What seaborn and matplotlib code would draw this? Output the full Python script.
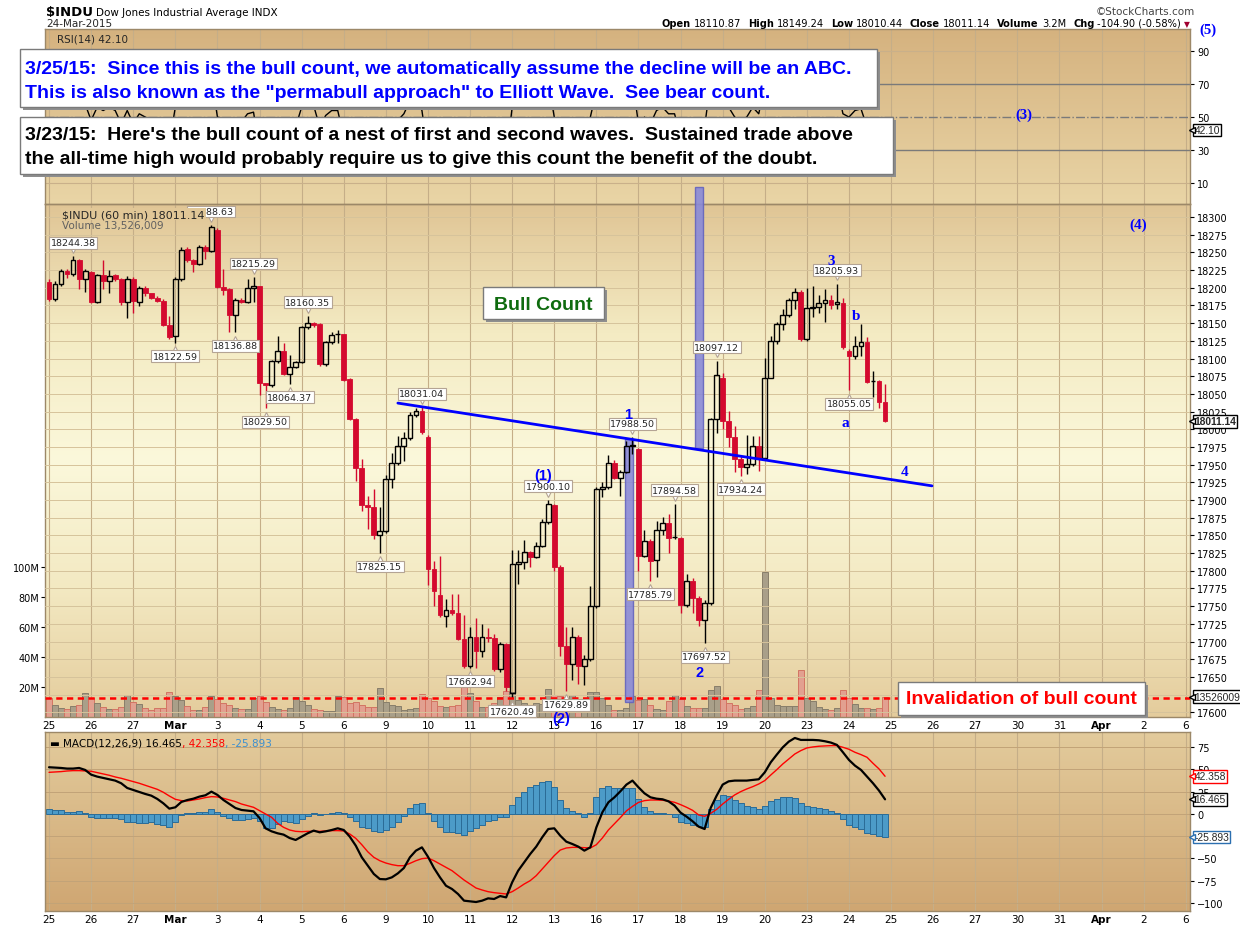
"""
$INDU hourly chart with RSI, volume and MACD panels (StockCharts style)
Elliott Wave bull count annotations
"""
import numpy as np
import matplotlib
matplotlib.use('Agg')
import matplotlib.pyplot as plt
import matplotlib.transforms as mtransforms
from matplotlib.colors import LinearSegmentedColormap
from matplotlib.patches import Rectangle
import seaborn as sns

sns.set_style('white')
plt.rcParams['font.family'] = ['DejaVu Sans']

W_PX, H_PX = 1240, 928

# ---------------------------------------------------------------- data
DAY_LABELS = ['25', '26', '27', 'Mar', '3', '4', '5', '6', '9', '10', '11', '12', '13',
              '16', '17', '18', '19', '20', '23', '24', '25', '26', '27', '30', '31',
              'Apr', '2', '6']
BARS_PER_DAY = 7

# hourly candles, one row per trading day (Feb 25 .. Mar 24)
OPEN = [
    18208, 18184, 18205, 18224, 18219, 18239, 18212,
    18222, 18180, 18218, 18209, 18218, 18212, 18180,
    18213, 18180, 18200, 18192, 18186, 18182, 18147,
    18132, 18213, 18255, 18239, 18234, 18257, 18252,
    18282, 18201, 18198, 18162, 18183, 18180, 18199,
    18202, 18065, 18062, 18096, 18111, 18078, 18088,
    18095, 18144, 18150, 18149, 18092, 18123, 18134,
    18134, 18071, 18015, 17945, 17893, 17890, 17850,
    17856, 17930, 17952, 17977, 17987, 18020, 18026,
    17989, 17802, 17766, 17736, 17744, 17740, 17703,
    17665, 17707, 17686, 17707, 17705, 17661, 17696,
    17627, 17810, 17812, 17826, 17820, 17835, 17869,
    17893, 17806, 17693, 17668, 17707, 17665, 17675,
    17750, 17916, 17919, 17953, 17931, 17940, 17977,
    17972, 17821, 17842, 17815, 17857, 17868, 17848,
    17846, 17751, 17785, 17762, 17731, 17754, 18014,
    18072, 18011, 17989, 17958, 17946, 17951, 17977,
    17960, 18073, 18125, 18149, 18162, 18183, 18194,
    18127, 18172, 18173, 18178, 18183, 18177, 18179,
    18110.87, 18103, 18118, 18124, 18068, 18068, 18038,
]
HIGH = [
    18212, 18210, 18226, 18226, 18244.38, 18240, 18227,
    18224, 18220, 18239, 18225, 18220, 18214, 18216,
    18215, 18203, 18203, 18193, 18188, 18184, 18160,
    18215, 18257, 18257, 18240, 18261, 18260, 18288.63,
    18284, 18226, 18200, 18185, 18185, 18212, 18215.29,
    18203, 18066, 18098, 18132, 18122, 18105, 18097,
    18146, 18160.35, 18152, 18150, 18125, 18137, 18140,
    18135, 18072, 18016, 17958, 17906, 17916, 17890,
    17935, 17966, 17990, 17996, 18025, 18030, 18031.04,
    17992, 17814, 17821, 17760, 17767, 17767, 17737,
    17720, 17733, 17725, 17719, 17710, 17699, 17698,
    17830, 17830, 17844, 17828, 17840, 17873, 17900.10,
    17895, 17808, 17720, 17720, 17709, 17681, 17779,
    17918, 17925, 17963, 17956, 17943, 17983, 17988.50,
    17974, 17857, 17845, 17870, 17876, 17880, 17894.58,
    17848, 17795, 17790, 17764, 17758, 18016, 18097.12,
    18080, 18026, 18005, 17962, 17992, 17991, 17991,
    18101, 18132, 18152, 18170, 18186, 18200, 18197,
    18200, 18202, 18190, 18198, 18190, 18205.93, 18185,
    18113, 18132, 18149.24, 18130, 18083, 18070, 18064,
]
LOW = [
    18181, 18182, 18203, 18214, 18216, 18198, 18194,
    18178, 18178, 18198, 18192, 18210, 18176, 18157,
    18165, 18174, 18188, 18184, 18180, 18146, 18128,
    18122.59, 18210, 18237, 18222, 18232, 18240, 18250,
    18199, 18190, 18137, 18136.88, 18178, 18178, 18180,
    18048, 18029.50, 18060, 18094, 18076, 18064.37, 18086,
    18093, 18142, 18145, 18090, 18090, 18121, 18122,
    18068, 18013, 17927, 17884, 17859, 17845, 17825.15,
    17853, 17917, 17950, 17955, 17985, 18018, 17993,
    17780, 17750, 17734, 17721, 17737, 17702, 17663,
    17662.94, 17663, 17678, 17699, 17659, 17657, 17630,
    17620.49, 17781, 17802, 17805, 17818, 17833, 17866,
    17800, 17680, 17629.89, 17645, 17640, 17638, 17672,
    17748, 17904, 17916, 17930, 17906, 17938, 17965,
    17799, 17819, 17785.79, 17791, 17850, 17825, 17845,
    17741, 17749, 17741, 17722, 17697.52, 17752, 17995,
    18000, 17975, 17940, 17934.24, 17937, 17948, 17941,
    17958, 18072, 18120, 18140, 18158, 18170, 18125,
    18125, 18158, 18165, 18151, 18170, 18170, 18114,
    18055.05, 18099, 18104, 18066, 18045, 18030, 18010.44,
]
CLOSE = [
    18184, 18205, 18224, 18219, 18239, 18212, 18224,
    18180, 18218, 18209, 18217, 18212, 18180, 18213,
    18182, 18200, 18192, 18186, 18182, 18147, 18131,
    18213, 18254, 18239, 18234, 18257, 18252, 18286,
    18201, 18197, 18162, 18183, 18180, 18199, 18202,
    18065, 18062, 18096, 18111, 18078, 18088, 18095,
    18144, 18150, 18147, 18092, 18123, 18133, 18134,
    18069, 18015, 17945, 17893, 17890, 17850, 17856,
    17930, 17952, 17977, 17987, 18020, 18026, 17996,
    17802, 17772, 17737, 17744, 17740, 17703, 17665,
    17707, 17686, 17707, 17705, 17661, 17696, 17635,
    17810, 17812, 17826, 17820, 17835, 17869, 17895,
    17806, 17693, 17668, 17707, 17665, 17675, 17750,
    17916, 17919, 17953, 17931, 17940, 17976, 17978,
    17821, 17842, 17814, 17857, 17868, 17847, 17848,
    17751, 17785, 17762, 17731, 17754, 18014, 18076,
    18011, 17989, 17958, 17946, 17951, 17977, 17958,
    18073, 18125, 18149, 18162, 18183, 18194, 18127,
    18172, 18173, 18178, 18183, 18176, 18180, 18116,
    18103, 18118, 18123, 18067, 18068, 18038, 18011.14,
]
VOLUME_M = [
    12.7, 8.2, 6.0, 5.3, 7.1, 8.0, 16.0,
    12.7, 9.3, 6.7, 5.3, 5.3, 6.7, 14.7,
    10.2, 8.7, 6.2, 4.9, 6.0, 6.0, 16.7,
    14.2, 11.6, 7.6, 4.9, 4.9, 6.4, 14.2,
    12.0, 9.3, 8.0, 6.0, 5.3, 5.3, 12.7,
    14.2, 10.2, 6.7, 5.3, 4.9, 6.2, 13.3,
    10.9, 8.0, 5.3, 4.9, 4.0, 4.0, 14.2,
    13.3, 9.3, 10.2, 8.2, 6.9, 6.9, 19.3,
    10.0, 8.0, 7.6, 4.9, 5.3, 6.0, 15.3,
    12.7, 10.7, 7.1, 6.7, 7.1, 8.2, 21.6,
    16.0, 10.9, 6.7, 6.7, 9.3, 13.3, 17.6,
    16.7, 11.6, 9.3, 6.7, 9.3, 8.9, 18.7,
    14.4, 14.2, 11.6, 14.4, 7.1, 12.0, 16.7,
    16.7, 12.7, 8.2, 4.9, 4.9, 6.0, 13.8,
    11.6, 12.0, 8.2, 5.3, 4.9, 10.4, 14.9,
    12.0, 7.1, 6.0, 6.0, 6.0, 18.2, 20.9,
    12.0, 9.3, 8.2, 5.3, 6.0, 7.1, 18.2,
    97.0, 12.7, 8.2, 7.6, 7.1, 7.6, 31.6,
    12.7, 10.4, 6.7, 5.3, 4.9, 6.0, 17.7,
    12.5, 8.9, 6.0, 6.0, 5.3, 6.0, 13.526,
]
RSI = [
    55, 58, 62, 60, 65, 55, 58,
    48, 56, 54, 56, 54, 46, 54,
    46, 52, 50, 48, 47, 38, 34,
    56, 66, 62, 60, 66, 64, 74,
    50, 49, 42, 48, 47, 52, 53,
    30, 29, 40, 45, 38, 42, 44,
    56, 58, 57, 44, 51, 54, 54,
    38, 30, 24, 20, 20, 18, 20,
    36, 42, 48, 52, 60, 62, 54,
    28, 24, 22, 24, 23, 20, 17,
    30, 28, 34, 34, 26, 34, 24,
    56, 56, 60, 58, 62, 68, 72,
    50, 36, 33, 42, 36, 38, 50,
    66, 66, 70, 64, 66, 72, 72,
    46, 50, 46, 54, 56, 52, 52,
    38, 46, 42, 38, 44, 72, 78,
    62, 56, 50, 48, 50, 56, 52,
    70, 76, 78, 80, 82, 84, 62,
    70, 70, 71, 72, 68, 69, 52,
    50, 54, 55, 44, 44, 42, 42.10,
]
MACD = [
    52.5, 52.1, 51.7, 51.0, 51.0, 51.7, 49.5,
    44.2, 42.0, 40.5, 39.0, 37.5, 34.5, 29.2,
    27.0, 24.7, 22.5, 20.6, 16.9, 12.0, 6.0,
    7.5, 13.5, 15.7, 17.2, 19.5, 21.0, 25.1,
    21.4, 15.7, 11.2, 6.7, 4.5, 3.7, 3.0,
    -4.5, -16.1, -19.5, -21.7, -23.2, -27.0, -29.2,
    -25.5, -21.7, -18.7, -20.6, -19.5, -18.0, -16.1,
    -18.0, -25.5, -35.6, -48.7, -58.1, -67.4, -73.1,
    -73.4, -71.2, -66.7, -60.7, -48.7, -41.2, -37.5,
    -48.0, -60.7, -71.2, -80.6, -84.3, -89.9, -97.4,
    -98.2, -98.9, -97.4, -94.8, -95.5, -92.2, -93.7,
    -76.8, -63.7, -54.3, -45.0, -36.7, -26.2, -16.9,
    -16.1, -24.4, -31.1, -33.7, -36.7, -41.2, -37.5,
    -15.0, 1.9, 13.1, 18.7, 25.5, 33.0, 37.5,
    30.0, 23.2, 18.7, 17.2, 16.5, 14.2, 9.4,
    1.5, -3.0, -8.2, -14.2, -16.9, 6.7, 20.6,
    33.0, 36.7, 37.5, 37.5, 37.5, 38.2, 39.0,
    46.8, 58.1, 66.7, 74.9, 81.3, 85.4, 83.2,
    83.2, 83.2, 82.8, 81.7, 80.2, 77.6, 69.3,
    60.7, 54.3, 49.5, 42.0, 34.5, 26.2, 16.465,
]
SIGNAL = [
    46.8, 47.2, 47.6, 48.3, 48.7, 48.7, 48.3,
    48.0, 46.5, 45.0, 43.5, 41.6, 40.1, 38.2,
    36.3, 34.5, 32.2, 30.0, 27.7, 24.4, 20.2,
    16.5, 15.0, 14.6, 15.7, 16.9, 18.4, 19.5,
    19.1, 17.6, 15.7, 13.9, 11.2, 9.4, 7.5,
    3.7, 0.0, -3.7, -10.5, -15.0, -18.0, -19.5,
    -19.9, -19.5, -19.5, -19.5, -19.1, -18.7, -18.7,
    -19.1, -22.5, -27.4, -34.5, -42.5, -48.7, -52.5,
    -55.1, -56.9, -58.1, -58.1, -55.5, -52.5, -50.2,
    -49.5, -52.5, -56.2, -59.9, -63.7, -68.9, -74.2,
    -78.7, -83.2, -85.4, -87.3, -88.4, -89.2, -89.9,
    -87.3, -83.2, -78.7, -74.9, -69.3, -61.8, -54.3,
    -46.8, -40.5, -38.2, -37.5, -37.5, -37.8, -38.2,
    -34.5, -27.0, -18.0, -11.0, -4.0, 3.5, 8.5,
    13.0, 15.0, 15.7, 15.7, 15.4, 14.6, 13.1,
    10.5, 7.5, 4.1, -1.1, -2.6, 0.7, 5.2,
    11.2, 16.5, 21.4, 25.1, 28.1, 30.7, 33.7,
    37.5, 43.8, 49.8, 56.2, 61.8, 67.4, 71.2,
    74.2, 75.3, 76.1, 76.4, 76.8, 76.8, 74.9,
    72.7, 69.3, 66.7, 63.7, 56.9, 50.6, 42.358,
]

# candles (1-based) whose high / low carries a value tag
TAG_HIGHS = [5, 28, 35, 44, 63, 84, 98, 105, 112, 132]
TAG_LOWS = [22, 32, 37, 41, 56, 71, 78, 87, 101, 110, 116, 134]

# wave labels: text, bar position, price
WAVES = [('(1)', 82.1, 17935, 'sans'), ('1', 96.3, 18021, 'sans'), ('2', 108.2, 17657, 'sans'),
         ('(2)', 85.1, 17592, 'sans'), ('3', 130.0, 18238, 'serif'), ('b', 134.2, 18161, 'serif'),
         ('a', 132.4, 18010, 'serif'), ('4', 142.2, 17941, 'serif'), ('(4)', 181.1, 18290, 'serif')]
WAVES_RSI = [('(3)', 162.1, 51.8), ('(5)', 192.7, 103.5)]

TREND_X = [58.0, 146.8]
TREND_Y = [18037, 17920]
INVALIDATION = 17620.49
HIGHLIGHTS = [(96.4, 17614, 17986), (108.1, 17973, 18342)]

LAST_VOLUME = 13526009
PRICE_TICKS = [p for p in range(17600, 18301, 25) if p != 17625]   # 17625 sits under the volume tag

# ---------------------------------------------------------------- helpers
RED = '#D4092E'
x = np.arange(len(CLOSE))
o, h, l, c = (np.array(v, dtype=float) for v in (OPEN, HIGH, LOW, CLOSE))
down = c < o

fig = plt.figure(figsize=(W_PX / 100, H_PX / 100), dpi=100)
fig.patch.set_facecolor('white')


def panel_rect(top, bottom, left=45, right=1190):
    return [left / W_PX, 1 - bottom / H_PX, (right - left) / W_PX, (bottom - top) / H_PX]


def add_gradient(rect, stops):
    bg = fig.add_axes(rect, zorder=0)
    cmap = LinearSegmentedColormap.from_list('bg', stops)
    bg.imshow(np.linspace(0, 1, 256).reshape(-1, 1), cmap=cmap, aspect='auto', extent=[0, 1, 0, 1])
    bg.set_axis_off()


def style_panel(ax):
    ax.patch.set_visible(False)
    for s in ax.spines.values():
        s.set_color('#9C8868')
        s.set_linewidth(1.0)
    ax.set_xlim(-0.67, 189.7)
    for d in range(len(DAY_LABELS)):
        ax.axvline(d * BARS_PER_DAY, color='#C5AE88', lw=0.8, zorder=0.5)


def right_marker(ax, y, text, ec='black', weight='normal', ytrans=None):
    trans = mtransforms.blended_transform_factory(ax.transAxes, ytrans or ax.transData)
    ax.text(1.0038, y, text, transform=trans, ha='left', va='center', fontsize=7.4, fontweight=weight,
            family='Liberation Sans',
            bbox=dict(boxstyle='square,pad=0.12', fc='white', ec=ec, lw=1.0), clip_on=False, zorder=10)
    ax.plot([1.0014], [y], marker='<', ms=4.5, mfc='white', mec=ec, mew=1.0, transform=trans,
            clip_on=False, zorder=11)


def draw_runs(x_px, y_px, runs, align='left'):
    r = fig.canvas.get_renderer()
    texts, widths = [], []
    for s, size, weight, color, gap in runs:
        t = fig.text(0, 1 - y_px / H_PX, s, fontsize=size, fontweight=weight, color=color,
                     va='baseline', zorder=7)
        texts.append(t)
        widths.append(t.get_window_extent(r).width + gap)
    pos = x_px - sum(widths) if align == 'right' else x_px
    for t, w in zip(texts, widths):
        t.set_x(pos / W_PX)
        pos += w


def note_box(x0, y0, x1, y1):
    fig.add_artist(Rectangle(((x0 + 3) / W_PX, 1 - (y1 + 3) / H_PX), (x1 - x0) / W_PX, (y1 - y0) / H_PX,
                             transform=fig.transFigure, fc='#8E8E8E', ec='none', zorder=5))
    fig.add_artist(Rectangle((x0 / W_PX, 1 - y1 / H_PX), (x1 - x0) / W_PX, (y1 - y0) / H_PX,
                             transform=fig.transFigure, fc='white', ec='#7A7A7A', lw=1.0, zorder=5))


def note_text(x_px, y_px, s, color, ha='left'):
    fig.text(x_px / W_PX, 1 - y_px / H_PX, s, fontsize=14, fontweight='bold', color=color,
             family='Liberation Sans', ha=ha, va='center', zorder=6)


# ---------------------------------------------------------------- backgrounds
rsi_rect = panel_rect(30, 205)
px_rect = panel_rect(205, 718)
macd_rect = panel_rect(733, 912)
add_gradient(rsi_rect, ['#D5B27F', '#E9D5A6'])
add_gradient(px_rect, ['#E0C595', '#F4EBC3', '#FBF8DB', '#F3E9C2', '#E4CC9C'])
add_gradient(macd_rect, ['#E3CB9C', '#CFA672'])

# ---------------------------------------------------------------- RSI panel
ax_rsi = fig.add_axes(rsi_rect, zorder=1)
style_panel(ax_rsi)
ax_rsi.set_ylim(-3.0, 103.7)
for lvl in (10, 90):
    ax_rsi.axhline(lvl, color='#C9B08A', lw=0.8, zorder=0.5)
for lvl in (30, 70):
    ax_rsi.axhline(lvl, color='#7A7A7A', lw=1.0, zorder=0.6)
ax_rsi.axhline(50, color='#7A7A7A', lw=1.0, ls='-.', zorder=0.6)
sns.lineplot(x=x, y=RSI, ax=ax_rsi, color='black', linewidth=1.0, zorder=3)
ax_rsi.yaxis.tick_right()
ax_rsi.set_yticks([10, 30, 50, 70, 90])
ax_rsi.tick_params(axis='y', labelsize=7, length=3, pad=2, colors='black')
ax_rsi.set_xticks([])
ax_rsi.set_xlabel('')
ax_rsi.set_ylabel('')
right_marker(ax_rsi, RSI[-1], f'{RSI[-1]:.2f}')
for s, xi, yv in WAVES_RSI:
    ax_rsi.text(xi, yv, s, color='#0000FF', fontsize=10.5, fontweight='bold', family='Liberation Serif',
                ha='center', va='center', clip_on=False, zorder=6)

# ---------------------------------------------------------------- price + volume panel
ax_vol = fig.add_axes(px_rect, zorder=1)
style_panel(ax_vol)
ax_px = ax_vol.twinx()
ax_px.patch.set_visible(False)
for s in ax_px.spines.values():
    s.set_visible(False)

ax_vol.set_ylim(0, 342)
vol_face = np.where(down, '#E2A090', '#A99F89')
vol_edge = np.where(down, '#D37463', '#887E6A')
ax_vol.bar(x, VOLUME_M, width=1.0, color=vol_face, edgecolor=vol_edge, linewidth=0.7, zorder=2)
ax_vol.set_yticks([20, 40, 60, 80, 100])
ax_vol.set_yticklabels([f'{v}M' for v in (20, 40, 60, 80, 100)])
ax_vol.yaxis.tick_left()
ax_vol.tick_params(axis='y', labelsize=7, length=3, pad=1, colors='black')

ax_px.set_ylim(17593.3, 18318.4)
ax_px.set_xlim(-0.67, 189.7)
for p in np.arange(17600, 18301, 25):
    ax_px.axhline(p, color='#D6C39B', lw=0.7, zorder=0.5)
ax_px.set_yticks(PRICE_TICKS)
ax_px.tick_params(axis='y', labelsize=7, length=3, pad=2, colors='black')

# highlight bars
for xc, y0, y1 in HIGHLIGHTS:
    ax_px.add_patch(Rectangle((xc - 0.65, y0), 1.3, y1 - y0, fc='#8A8AD8', ec='#6464BE', lw=1.0,
                              alpha=0.9, zorder=2.5, clip_on=False))

# candles
body_lo = np.minimum(o, c)
body_hi = np.maximum(o, c)
wick_col = np.where(down, RED, 'black')
ax_px.vlines(x, body_hi, h, colors=wick_col, linewidth=1.0, zorder=3)
ax_px.vlines(x, l, body_lo, colors=wick_col, linewidth=1.0, zorder=3)
ax_px.bar(x[down], (body_hi - body_lo)[down], bottom=body_lo[down], width=0.8,
          color=RED, edgecolor=RED, linewidth=0.6, zorder=3.2)
ax_px.bar(x[~down], (body_hi - body_lo)[~down], bottom=body_lo[~down], width=0.8,
          facecolor='none', edgecolor='black', linewidth=1.0, zorder=3.2)

# trend line and invalidation level
sns.lineplot(x=TREND_X, y=TREND_Y, ax=ax_px, color='#0000FF', linewidth=2.0, zorder=4)
ax_px.axhline(INVALIDATION, color='#FF0000', lw=1.8, ls=(0, (2.5, 1.8)), zorder=4)
ax_px.set_xlabel('')
ax_px.set_ylabel('')

# value tags at swing highs / lows
up_off = mtransforms.offset_copy(ax_px.transData, fig, x=0, y=4.5, units='points')
dn_off = mtransforms.offset_copy(ax_px.transData, fig, x=0, y=-4.5, units='points')
tag_box = dict(boxstyle='square,pad=0.15', fc='white', ec='#B4A494', lw=0.8)
for n in TAG_HIGHS:
    i = n - 1
    ax_px.plot(i, h[i], marker='v', ms=5, mfc='white', mec='#B4A494', mew=0.8, transform=up_off, zorder=6)
    ax_px.annotate(f'{h[i]:.2f}', (i, h[i]), xytext=(0, 6.5), textcoords='offset points', ha='center',
                   va='bottom', fontsize=6.8, bbox=tag_box, zorder=7)
for n in TAG_LOWS:
    i = n - 1
    ax_px.plot(i, l[i], marker='^', ms=5, mfc='white', mec='#B4A494', mew=0.8, transform=dn_off, zorder=6)
    ax_px.annotate(f'{l[i]:.2f}', (i, l[i]), xytext=(0, -6.5), textcoords='offset points', ha='center',
                   va='top', fontsize=6.8, bbox=tag_box, zorder=7)

for s, xi, yv, fam in WAVES:
    family = 'Liberation Serif' if fam == 'serif' else 'Liberation Sans'
    size = 11 if fam == 'serif' else 10.5
    ax_px.text(xi, yv, s, color='#0000FF', fontsize=size, fontweight='bold', family=family,
               ha='center', va='center', clip_on=False, zorder=8)

right_marker(ax_px, c[-1], f'{c[-1]:.2f}', weight='bold')
right_marker(ax_px, LAST_VOLUME / 1e6, f'{LAST_VOLUME}', ytrans=ax_vol.transData)

ax_vol.set_xticks(np.arange(len(DAY_LABELS)) * BARS_PER_DAY)
ax_vol.set_xticklabels(DAY_LABELS)
ax_vol.tick_params(axis='x', labelsize=7.5, length=0, pad=2, colors='black')
for t in ax_vol.get_xticklabels():
    if t.get_text() in ('Mar', 'Apr'):
        t.set_fontweight('bold')

# ---------------------------------------------------------------- MACD panel
ax_m = fig.add_axes(macd_rect, zorder=1)
style_panel(ax_m)
ax_m.set_ylim(-109, 92.1)
for lvl in range(-100, 76, 25):
    ax_m.axhline(lvl, color='#C2A378', lw=0.7, zorder=0.5)
hist = np.array(MACD) - np.array(SIGNAL)
ax_m.bar(x, hist, width=1.0, color='#4C9BC8', edgecolor='#2B6C97', linewidth=0.7, zorder=2)
sns.lineplot(x=x, y=SIGNAL, ax=ax_m, color='#FF0000', linewidth=1.0, zorder=3)
sns.lineplot(x=x, y=MACD, ax=ax_m, color='black', linewidth=1.6, zorder=4)
ax_m.set_xlim(-0.67, 189.7)
ax_m.set_xlabel('')
ax_m.set_ylabel('')
ax_m.yaxis.tick_right()
ax_m.set_yticks([75, 50, 25, 0, -25, -50, -75, -100])
ax_m.tick_params(axis='y', labelsize=7, length=3, pad=2, colors='black')
ax_m.set_xticks(np.arange(len(DAY_LABELS)) * BARS_PER_DAY)
ax_m.set_xticklabels(DAY_LABELS)
ax_m.tick_params(axis='x', labelsize=7.5, length=0, pad=2, colors='black')
for t in ax_m.get_xticklabels():
    if t.get_text() in ('Mar', 'Apr'):
        t.set_fontweight('bold')
right_marker(ax_m, SIGNAL[-1], f'{SIGNAL[-1]:.3f}', ec='#FF0000')
right_marker(ax_m, MACD[-1], f'{MACD[-1]:.3f}', ec='black')
right_marker(ax_m, hist[-1], f'{hist[-1]:.3f}', ec='#2B6FB0')

# ---------------------------------------------------------------- header and legends
draw_runs(46, 16, [('$INDU', 9.5, 'bold', 'black', 3),
                   ('Dow Jones Industrial Average INDX', 7.5, 'normal', 'black', 0)])
fig.text(46 / W_PX, 1 - 27 / H_PX, '24-Mar-2015', fontsize=7.5, va='baseline')
fig.text(1195 / W_PX, 1 - 15 / H_PX, '\u00a9StockCharts.com', fontsize=7.5, color='#444444',
         ha='right', va='baseline')
ohlc = [('Open', 'bold'), ('18110.87', 'normal'), ('High', 'bold'), ('18149.24', 'normal'),
        ('Low', 'bold'), ('18010.44', 'normal'), ('Close', 'bold'), ('18011.14', 'normal'),
        ('Volume', 'bold'), ('3.2M', 'normal'), ('Chg', 'bold'), ('-104.90 (-0.58%)', 'normal')]
runs = [(s, 7.1, w, 'black', 3 if w == 'bold' else 7) for s, w in ohlc]
runs[-1] = (runs[-1][0], 7.1, 'normal', 'black', 3)
runs.append(('\u25bc', 5.5, 'normal', '#A00030', 0))
draw_runs(1190, 27, runs, align='right')

fig.text(57 / W_PX, 1 - 42 / H_PX, 'RSI(14) 42.10', fontsize=7.5, va='baseline')
fig.text(62 / W_PX, 1 - 218 / H_PX, '$INDU (60 min) 18011.14', fontsize=8, va='baseline',
         bbox=dict(boxstyle='square,pad=0.1', fc='#E1C797', ec='none'), zorder=8)
fig.text(62 / W_PX, 1 - 229 / H_PX, 'Volume 13,526,009', fontsize=7.5, color='#606060', va='baseline')
draw_runs(50, 747, [('\u25ac MACD(12,26,9) 16.465', 7.5, 'normal', 'black', 0),
                    (', 42.358', 7.5, 'normal', '#FF0000', 0),
                    (', -25.893', 7.5, 'normal', '#3B8FD0', 0)])

# ---------------------------------------------------------------- note boxes
note_box(20, 50, 877, 108)
note_text(25, 70, '3/25/15:  Since this is the bull count, we automatically assume the decline will be an ABC.',
          '#0000FF')
note_text(25, 93, 'This is also known as the "permabull approach" to Elliott Wave.  See bear count.',
          '#0000FF')
note_box(20, 118, 893, 175)
note_text(25, 135, "3/23/15:  Here's the bull count of a nest of first and second waves.  Sustained trade above",
          'black')
note_text(25, 160, 'the all-time high would probably require us to give this count the benefit of the doubt.',
          'black')
note_box(483, 288, 604, 320)
note_text(543.5, 305, 'Bull Count', '#0E6B0E', ha='center')
note_box(898, 683, 1145, 716)
note_text(1021, 700, 'Invalidation of bull count', '#FF0000', ha='center')

fig.savefig('out.png', dpi=100)
